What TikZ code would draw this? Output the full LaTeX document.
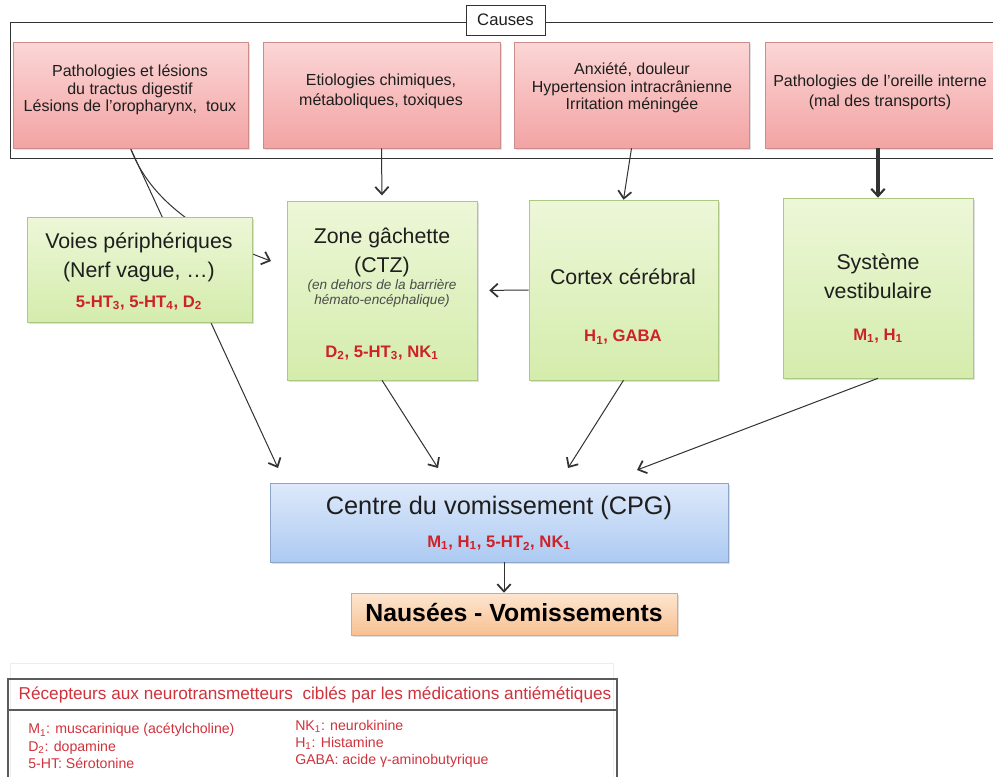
\documentclass[tikz,border=0pt]{standalone}
\usepackage{fontspec}
\setmainfont{Liberation Sans}
\usepackage{tikz}
\usetikzlibrary{arrows.meta}
\usetikzlibrary{shadows}
\usetikzlibrary{backgrounds}
\definecolor{rosehaut}{RGB}{251,214,214}
\definecolor{rosebas}{RGB}{243,163,163}
\definecolor{rosebord}{RGB}{205,140,140}
\definecolor{verthaut}{RGB}{237,247,216}
\definecolor{vertbas}{RGB}{212,236,172}
\definecolor{vertbord}{RGB}{172,200,130}
\definecolor{bleuhaut}{RGB}{222,233,250}
\definecolor{bleubas}{RGB}{172,202,242}
\definecolor{bleubord}{RGB}{140,165,200}
\definecolor{orangehaut}{RGB}{253,230,208}
\definecolor{orangebas}{RGB}{248,192,145}
\definecolor{orangebord}{RGB}{215,170,130}
\definecolor{rouge}{RGB}{204,34,40}
\definecolor{rougeleg}{RGB}{208,50,60}
\definecolor{texte}{RGB}{30,30,30}
\definecolor{trait}{RGB}{50,50,50}
\tikzset{
  boite/.style={draw, inner sep=0pt, drop shadow={shadow xshift=1.5pt, shadow yshift=-1.5pt, opacity=0.25}},
  cause/.style={boite, top color=rosehaut, bottom color=rosebas, draw=rosebord, minimum height=79.5pt},
  vert/.style={boite, top color=verthaut, bottom color=vertbas, draw=vertbord},
  fleche/.style={-{Straight Barb[length=5.5pt,width=10pt,line width=1.3pt]}, trait, line width=0.75pt},
  causetxt/.style={align=center, text=texte, font=\fontsize{12}{13.2}\selectfont},
  titre/.style={align=center, text=texte, font=\fontsize{16}{21.75}\selectfont},
  recep/.style={text=rouge, font=\fontsize{12.5}{14}\selectfont\bfseries},
  note/.style={align=center, text=texte!80, font=\fontsize{10.2}{11.25}\selectfont\itshape},
  tableau/.style={draw=trait!80, line width=1pt},
  legtxt/.style={align=left, inner sep=0pt, text=rougeleg, font=\fontsize{10.6}{13}\selectfont}
}
\begin{document}
\begin{tikzpicture}[x=0.75pt, y=-0.75pt]
\useasboundingbox (0,0) rectangle (993,776);
\clip (0,0) rectangle (993,776);
\begin{scope}[on background layer]
\fill[white] (0,0) rectangle (993,776);
\end{scope}
% CAUSES
\draw[trait, line width=0.75pt] (10,22) rectangle (1010,158);
\node[draw=trait, fill=white, minimum width=59.25pt, minimum height=22.5pt, text=texte, font=\fontsize{12.5}{14}\selectfont] (causes) at (505.5,20) {Causes};
\node[cause, minimum width=176.25pt] (cause1) at (130.5,95) {};
\node[cause, minimum width=177.75pt] (cause2) at (381.5,95) {};
\node[cause, minimum width=176.25pt] (cause3) at (631.5,95) {};
\node[cause, minimum width=176.25pt] (cause4) at (882.5,95) {};
\node[causetxt] (cause1-t) at (130,90) {Pathologies et lésions\\du tractus digestif\\Lésions de l’oropharynx,\ \ toux};
\node[causetxt, font=\fontsize{12}{15}\selectfont] (cause2-t) at (381,91) {Etiologies chimiques,\\métaboliques, toxiques};
\node[causetxt] (cause3-t) at (632,88) {Anxiété, douleur\\Hypertension intracrânienne\\Irritation méningée};
\node[causetxt, font=\fontsize{12}{15}\selectfont] (cause4-t) at (880,92) {Pathologies de l’oreille interne\\(mal des transports)};
% BOITES
\node[vert, minimum width=168.75pt, minimum height=78.75pt] (voies) at (139.5,269.5) {};
\node[vert, minimum width=142.5pt, minimum height=134.25pt] (zone) at (382,290.5) {};
\node[vert, minimum width=141.75pt, minimum height=135pt] (cortex) at (623.5,290) {};
\node[vert, minimum width=142.5pt, minimum height=135pt] (systeme) at (878,288) {};
\node[boite, top color=bleuhaut, bottom color=bleubas, draw=bleubord, minimum width=343.5pt, minimum height=59.25pt] (cpg) at (499,522.5) {};
\node[boite, top color=orangehaut, bottom color=orangebas, draw=orangebord, minimum width=244.5pt, minimum height=31.5pt] (nausees) at (514,614) {};
\node[titre] (voies-t) at (139,257.5) {Voies périphériques\\(Nerf vague, …)};
\node[recep] (voies-r) at (139,303) {5-HT\textsubscript{3}, 5-HT\textsubscript{4}, D\textsubscript{2}};
\node[titre] (zone-t) at (382,252.5) {Zone gâchette\\(CTZ)};
\node[note] (zone-n) at (382,293.5) {(en dehors de la barrière\\hémato-encéphalique)};
\node[recep] (zone-r) at (382,353) {D\textsubscript{2}, 5-HT\textsubscript{3}, NK\textsubscript{1}};
\node[titre] (cortex-t) at (623,277) {Cortex cérébral};
\node[recep] (cortex-r) at (623,337) {H\textsubscript{1}, GABA};
\node[titre] (systeme-t) at (878,276) {Système\\vestibulaire};
\node[recep] (systeme-r) at (878,336) {M\textsubscript{1}, H\textsubscript{1}};
\node[text=texte, font=\fontsize{19}{22}\selectfont] (cpg-t) at (499,508) {Centre du vomissement (CPG)};
\node[recep] (cpg-r) at (499,543) {M\textsubscript{1}, H\textsubscript{1}, 5-HT\textsubscript{2}, NK\textsubscript{1}};
\node[text=black, font=\fontsize{18.6}{22}\selectfont\bfseries] (nausees-t) at (514,613) {Nausées - Vomissements};
% FLECHES
\coordinate (in0) at (271,261);
\coordinate (in1) at (278,468);
\coordinate (in2) at (438,468);
\coordinate (in3) at (568,468);
\coordinate (in4) at (637,470);
\begin{scope}[on background layer]
\draw[fleche] (cause1.south) -- (in1);
\draw[fleche] (cause1.south) .. controls (150,200) and (200,235) .. (in0);
\end{scope}
\draw[fleche, shorten >=4pt] (cause2.south) -- (zone.north);
\draw[fleche] (cause3.south) -- (cortex.north);
\draw[trait, line width=2.6pt, -{Straight Barb[length=5.5pt,width=10pt,line width=1.6pt]}] (systeme.north |- cause4.south) -- (systeme.north);
\draw[fleche, shorten >=9pt] (cortex.west) -- (zone.east);
\draw[fleche] (zone.south) -- (in2);
\draw[fleche] (cortex.south) -- (in3);
\draw[fleche] (systeme.south) -- (in4);
\draw[fleche] ([xshift=3.75pt]cpg.south) -- ([xshift=3.75pt]cpg.south |- nausees.north);
% LEGENDE
\draw[black!7] (10,663) rectangle (613,800);
\draw[tableau] (8,679) rectangle (617,800);
\draw[tableau] (8,710) -- (617,710);
\node[text=rougeleg, font=\fontsize{12.9}{15}\selectfont] (leg-t) at (315,695) {Récepteurs aux neurotransmetteurs\ \ ciblés par les médications antiémétiques};
\node[legtxt, anchor=west] (leg-g) at (28,746) {M\textsubscript{1}: muscarinique (acétylcholine)\\D\textsubscript{2}: dopamine\\5-HT: Sérotonine};
\node[legtxt, anchor=west] (leg-d) at (295,744) {NK\textsubscript{1}: neurokinine\\H\textsubscript{1}: Histamine\\GABA: acide γ-aminobutyrique};
\end{tikzpicture}
\end{document}
